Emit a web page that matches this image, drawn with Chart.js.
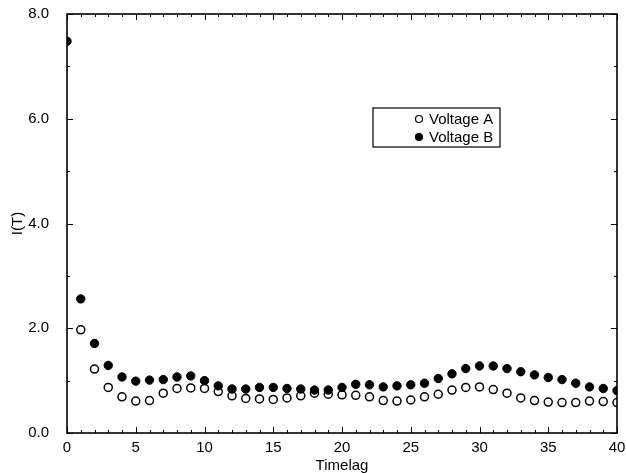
<!DOCTYPE html>
<html>
<head>
<meta charset="utf-8">
<script src="https://cdn.jsdelivr.net/npm/chart.js@4"></script>
<style>
  html, body { margin: 0; padding: 0; background: #fff; }
  #box { width: 626px; height: 473px; }
</style>
</head>
<body>
<div id="box"><canvas id="lagChart"></canvas></div>
<script>
// time lags 0..40
const lags = [];
for (let i = 0; i <= 40; i++) lags.push(i);

const voltageA = [null, 1.97, 1.22, 0.87, 0.69, 0.61, 0.62, 0.76, 0.85, 0.86, 0.85,
    0.79, 0.71, 0.66, 0.65, 0.64, 0.67, 0.71, 0.76, 0.74, 0.73,
    0.72, 0.69, 0.62, 0.61, 0.63, 0.69, 0.74, 0.82, 0.87, 0.88,
    0.83, 0.76, 0.67, 0.62, 0.59, 0.58, 0.58, 0.61, 0.60, 0.58]

const voltageB = [7.48, 2.56, 1.71, 1.29, 1.07, 0.99, 1.01, 1.02, 1.07, 1.09, 1.00,
    0.90, 0.84, 0.84, 0.87, 0.87, 0.85, 0.84, 0.82, 0.82, 0.87,
    0.93, 0.92, 0.88, 0.90, 0.92, 0.95, 1.04, 1.13, 1.23, 1.28,
    1.28, 1.23, 1.17, 1.11, 1.06, 1.02, 0.95, 0.88, 0.85, 0.81]

const seriesNames = ["Voltage A", "Voltage B"]
const xTicks = [0, 5, 10, 15, 20, 25, 30, 35, 40]
const yTicks = [0, 2, 4, 6, 8]

const fontName = "'Liberation Sans', Arial, sans-serif"

function toPoints(values) {
    return values.map(function(v, i) {
        return { x: lags[i], y: v }
    })
}

// frame + inward tick marks on all four sides
const frameTicks = {
    id: "frameTicks",
    afterDraw(chart) {
        const ctx = chart.ctx
        const area = chart.chartArea
        const xs = chart.scales.x
        const ys = chart.scales.y
        ctx.save()
        ctx.strokeStyle = "#000"
        ctx.lineWidth = 1.6
        ctx.strokeRect(area.left, area.top, area.right - area.left, area.bottom - area.top)
        ctx.lineWidth = 1
        ctx.beginPath()
        for (let v = 0; v <= 40; v++) {
            const px = Math.round(xs.getPixelForValue(v)) + 0.5
            const len = v % 5 === 0 ? 6 : 3
            ctx.moveTo(px, area.bottom); ctx.lineTo(px, area.bottom - len)
            ctx.moveTo(px, area.top); ctx.lineTo(px, area.top + len)
        }
        for (let v = 0; v <= 8; v++) {
            const py = Math.round(ys.getPixelForValue(v)) + 0.5
            const len = v % 2 === 0 ? 6 : 3
            ctx.moveTo(area.left, py); ctx.lineTo(area.left + len, py)
            ctx.moveTo(area.right, py); ctx.lineTo(area.right - len, py)
        }
        ctx.stroke()
        ctx.restore()
    }
}

// boxed legend inside the plot
const boxLegend = {
    id: "boxLegend",
    afterDraw(chart) {
        const ctx = chart.ctx
        const bx = 373, by = 108, bw = 127, bh = 39
        ctx.save()
        ctx.fillStyle = "#fff"
        ctx.fillRect(bx, by, bw, bh)
        ctx.strokeStyle = "#000"
        ctx.lineWidth = 1.2
        ctx.strokeRect(bx, by, bw, bh)
        ctx.font = "15px " + fontName
        ctx.textBaseline = "middle"
        chart.data.datasets.forEach(function(ds, i) {
            const cy = by + 11 + i * 18
            ctx.beginPath()
            ctx.arc(bx + 46, cy, 3.5, 0, Math.PI * 2)
            if (i === 1) { ctx.fillStyle = "#000"; ctx.fill() }
            ctx.lineWidth = 1.2
            ctx.stroke()
            ctx.fillStyle = "#000"
            ctx.fillText(ds.label, bx + 56, cy + 1)
        })
        ctx.restore()
    }
}

const config = {
    type: "scatter",
    data: {
        datasets: [{
            label: seriesNames[0],
            data: toPoints(voltageA),
            backgroundColor: "#fff",
            borderColor: "#000",
            borderWidth: 1.5,
            pointRadius: 4,
            order: 2
        }, {
            label: seriesNames[1],
            data: toPoints(voltageB),
            backgroundColor: "#000",
            borderColor: "#000",
            borderWidth: 1,
            pointRadius: 4.2,
            order: 1
        }]
    },
    options: {
        responsive: true,
        maintainAspectRatio: false,
        animation: false,
        layout: { padding: { top: 14, right: 9, left: 0, bottom: 0 } },
        plugins: {
            legend: { display: false },
            tooltip: { enabled: false }
        },
        scales: {
            x: {
                type: "linear",
                min: 0,
                max: 40,
                afterBuildTicks(scale) { scale.ticks = xTicks.map(v => ({ value: v })) },
                afterFit(scale) {
                    scale.height = 40
                    scale.paddingLeft = 0
                    scale.paddingRight = 0
                },
                grid: { display: false },
                border: { display: false },
                ticks: { color: "#000", font: { family: fontName, size: 15 }, padding: -2 },
                title: { display: true, text: "Timelag", color: "#000", font: { family: fontName, size: 15, lineHeight: 1 }, padding: { top: 0, bottom: 0 } }
            },
            y: {
                min: 0,
                max: 8,
                afterBuildTicks(scale) { scale.ticks = yTicks.map(v => ({ value: v })) },
                afterFit(scale) {
                    scale.width = 67
                    scale.paddingTop = 0
                    scale.paddingBottom = 0
                },
                grid: { display: false },
                border: { display: false },
                ticks: {
                    color: "#000",
                    font: { family: fontName, size: 15 },
                    padding: 10,
                    callback: function(v) { return v.toFixed(1) }
                },
                title: { display: true, text: "I(T)", color: "#000", font: { family: fontName, size: 15 }, padding: { top: 9, bottom: 0 } }
            }
        }
    },
    plugins: [frameTicks, boxLegend]
}

const lagChart = new Chart(document.getElementById("lagChart"), config)
</script>
</body>
</html>
